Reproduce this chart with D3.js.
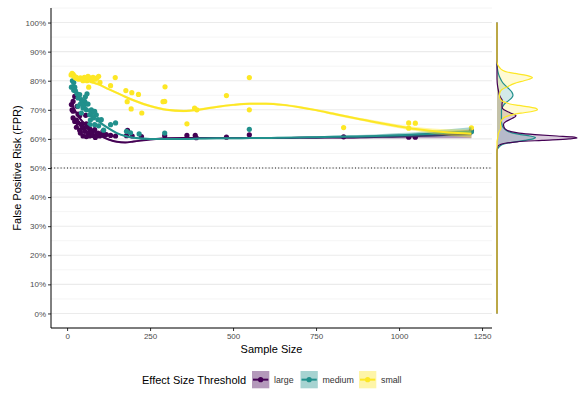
<!DOCTYPE html>
<html><head><meta charset="utf-8">
<script src="https://cdn.jsdelivr.net/npm/d3@7"></script>
<style>
body{margin:0;background:#fff;}
text{font-family:"Liberation Sans",Arial,sans-serif;}
</style></head>
<body><svg id="c" width="586" height="395"></svg>
<script>
// ---------- data ----------
const groups = ["large","medium","small"];
const colors = ["#440154","#21908C","#FDE725"];
const yTicks = [0,0.1,0.2,0.3,0.4,0.5,0.6,0.7,0.8,0.9,1.0];
const xTicks = [0,250,500,750,1000,1250];

// scatter points (sample size, FPR)
const largeN   = [13,18,23,15,30,18,33,38,56,18,23,28,33,43,48,28,38,58,53,63,73,48,58,68,78,88,98,68,83,93,108,118,131,146,182,179,196,224,294,361,386,389,480,549,833,1029,1049,1218,40,45,60,75,85,101,111];
const largeFPR = [0.718,0.729,0.746,0.700,0.712,0.695,0.685,0.680,0.681,0.672,0.660,0.665,0.655,0.650,0.638,0.640,0.630,0.652,0.626,0.621,0.615,0.610,0.608,0.610,0.612,0.612,0.610,0.635,0.632,0.620,0.626,0.615,0.612,0.610,0.629,0.611,0.610,0.608,0.611,0.612,0.612,0.604,0.606,0.614,0.607,0.606,0.606,0.628,0.620,0.645,0.640,0.625,0.605,0.615,0.615];

const mediumN   = [13,23,20,16,20,30,38,60,33,43,53,60,63,33,48,58,73,83,43,68,88,78,93,68,83,103,131,146,179,191,217,294,549,1218,25,50,40,70,95,110,75,55];
const mediumFPR = [0.778,0.778,0.794,0.800,0.767,0.755,0.752,0.755,0.741,0.735,0.729,0.720,0.720,0.712,0.706,0.700,0.700,0.695,0.689,0.683,0.683,0.672,0.666,0.649,0.649,0.666,0.649,0.655,0.626,0.621,0.617,0.620,0.633,0.625,0.765,0.715,0.720,0.665,0.645,0.630,0.690,0.745];

const smallN   = [12,15,18,20,22,25,28,30,35,40,45,48,52,55,60,63,68,72,75,78,82,85,90,95,65,99,131,145,177,195,215,181,295,289,294,193,225,361,384,391,480,549,549,833,1029,1049,1029,1218];
const smallFPR = [0.820,0.825,0.822,0.818,0.815,0.810,0.812,0.808,0.805,0.810,0.805,0.800,0.812,0.806,0.800,0.815,0.810,0.804,0.800,0.812,0.808,0.805,0.810,0.815,0.778,0.794,0.783,0.811,0.766,0.759,0.753,0.728,0.779,0.728,0.729,0.703,0.689,0.652,0.706,0.700,0.749,0.811,0.700,0.639,0.655,0.654,0.637,0.638];

// smoothed fits (loess), with standard-error half widths
const fitN = [13,25,40,60,80,100,125,150,175,200,250,300,350,400,450,500,550,600,650,700,750,800,850,900,950,1000,1050,1100,1150,1218];
const largeFit  = [0.722,0.695,0.668,0.645,0.627,0.611,0.598,0.590,0.588,0.591,0.598,0.602,0.603,0.603,0.603,0.603,0.603,0.603,0.603,0.604,0.604,0.605,0.605,0.606,0.607,0.608,0.610,0.612,0.614,0.617];
const mediumFit = [0.785,0.762,0.733,0.702,0.677,0.656,0.636,0.620,0.610,0.604,0.600,0.600,0.600,0.601,0.602,0.602,0.603,0.603,0.604,0.605,0.606,0.607,0.608,0.609,0.611,0.613,0.615,0.618,0.621,0.625];
const smallFit  = [0.816,0.813,0.808,0.801,0.793,0.785,0.771,0.758,0.745,0.733,0.713,0.700,0.696,0.701,0.710,0.717,0.721,0.721,0.717,0.709,0.699,0.687,0.675,0.664,0.653,0.643,0.634,0.627,0.622,0.618];
const largeSE  = [0.008,0.006,0.005,0.004,0.004,0.003,0.003,0.003,0.003,0.003,0.003,0.003,0.003,0.003,0.003,0.003,0.003,0.003,0.003,0.003,0.004,0.004,0.005,0.005,0.006,0.007,0.008,0.010,0.012,0.015];
const mediumSE = [0.008,0.006,0.005,0.004,0.004,0.003,0.003,0.003,0.003,0.003,0.003,0.003,0.003,0.003,0.003,0.003,0.003,0.003,0.003,0.003,0.004,0.004,0.005,0.005,0.006,0.007,0.008,0.010,0.012,0.015];
const smallSE  = [0.008,0.006,0.005,0.004,0.004,0.004,0.004,0.004,0.004,0.004,0.004,0.004,0.004,0.004,0.004,0.004,0.004,0.004,0.004,0.004,0.004,0.005,0.005,0.005,0.006,0.006,0.007,0.009,0.011,0.014];

// marginal densities of FPR (relative density units)
const largeDensF = [1.0,0.81,0.80,0.79,0.78,0.77,0.76,0.75,0.74,0.73,0.72,0.71,0.70,0.69,0.68,0.67,0.66,0.65,0.64,0.63,0.625,0.62,0.615,0.61,0.607,0.603,0.60,0.595,0.59,0.585,0.58,0.575,0.565,0.55,0.0];
const largeDensV = [0,0,0.1,0.3,0.7,1.2,1.8,2.5,4,5.5,5,5,7,13,19,15,9,6.5,7,10,14,22,38,60,75,80,72,45,20,8,3,1,0.2,0,0];
const mediumDensF = [1.0,0.86,0.85,0.84,0.83,0.82,0.81,0.80,0.79,0.78,0.77,0.76,0.75,0.74,0.73,0.72,0.71,0.70,0.69,0.68,0.67,0.66,0.65,0.64,0.63,0.62,0.615,0.61,0.605,0.60,0.595,0.59,0.585,0.58,0.57,0.565,0.56,0.0];
const mediumDensV = [0,0,0.2,0.5,1,1.8,3,4.5,6.5,9.5,12.5,15,16,14.5,11,7.5,5.5,4.5,4.5,4.5,4.5,4.5,5,6,9,16,24,33,38.5,36,28,18,10,5,1.5,0.5,0,0];
const smallDensF = [1.0,0.87,0.86,0.85,0.84,0.835,0.83,0.825,0.82,0.815,0.81,0.805,0.80,0.79,0.78,0.77,0.76,0.75,0.74,0.73,0.725,0.72,0.715,0.71,0.705,0.70,0.695,0.69,0.685,0.68,0.675,0.67,0.66,0.65,0.64,0.63,0.62,0.61,0.60,0.59,0.0];
const smallDensV = [0,0,0.3,1.5,4,6,10,18,27,33,35.5,32,27,17,11,5,3,2.5,2.8,5,9,13,22,32,39,40.5,36,27,18,12,8,6,4,3.5,4,3,1.5,1,0.5,0,0];

// ---------- drawing ----------
const svg = d3.select("#c");
const x = d3.scaleLinear().domain([-48.5,1280]).range([51,492]);
const y = d3.scaleLinear().domain([-0.05,1.05]).range([328,8]);
const xd = d3.scaleLinear().domain([0,84]).range([497,581]);

const pts = [[largeN,largeFPR],[mediumN,mediumFPR],[smallN,smallFPR]];
const fits = [[largeFit,largeSE],[mediumFit,mediumSE],[smallFit,smallSE]];
const dens = [[largeDensF,largeDensV],[mediumDensF,mediumDensV],[smallDensF,smallDensV]];

// grid
const minor = d3.range(-0.05,1.051,0.1);
svg.append("g").selectAll("line").data(minor).join("line")
  .attr("x1",51).attr("x2",492).attr("y1",d=>y(d)).attr("y2",d=>y(d))
  .attr("stroke","#ebebeb").attr("stroke-width",0.55);
svg.append("g").selectAll("line").data(yTicks).join("line")
  .attr("x1",51).attr("x2",492).attr("y1",d=>y(d)).attr("y2",d=>y(d))
  .attr("stroke","#ebebeb").attr("stroke-width",1.07);

// reference line
svg.append("line").attr("x1",51).attr("x2",492).attr("y1",y(0.5)).attr("y2",y(0.5))
  .attr("stroke","#000").attr("stroke-width",0.9).attr("stroke-dasharray","1,2.2");

// points
groups.forEach((g,i)=>{
  const [ns,fs] = pts[i];
  svg.append("g").selectAll("circle").data(ns.map((n,k)=>[n,fs[k]])).join("circle")
    .attr("cx",d=>x(d[0])).attr("cy",d=>y(d[1])).attr("r",2.6).attr("fill",colors[i]);
});

// smooths
groups.forEach((g,i)=>{
  const [f,se] = fits[i];
  const data = fitN.map((n,k)=>({n, f:f[k], s:se[k]}));
  svg.append("path").datum(data)
    .attr("d", d3.area().x(d=>x(d.n)).y0(d=>y(d.f-d.s)).y1(d=>y(d.f+d.s)).curve(d3.curveMonotoneX))
    .attr("fill",colors[i]).attr("fill-opacity",0.4);
  svg.append("path").datum(data)
    .attr("d", d3.line().x(d=>x(d.n)).y(d=>y(d.f)).curve(d3.curveMonotoneX))
    .attr("fill","none").attr("stroke",colors[i]).attr("stroke-width",2);
});

// axes
const fmtPct = d3.format(".0%");
const ya = svg.append("g").attr("transform","translate(51,0)")
  .call(d3.axisLeft(y).tickValues(yTicks).tickFormat(fmtPct).tickSize(3).tickPadding(2));
const xa = svg.append("g").attr("transform","translate(0,328)")
  .call(d3.axisBottom(x).tickValues(xTicks).tickFormat(d3.format("d")).tickSize(3).tickPadding(2));
[ya,xa].forEach(a=>{
  a.select(".domain").remove();
  a.selectAll(".tick line").attr("stroke","#333");
  a.selectAll(".tick text").attr("fill","#4d4d4d").style("font-size","8px").style("font-family","Liberation Sans, Arial, sans-serif");
});
svg.append("line").attr("x1",51).attr("x2",51).attr("y1",8).attr("y2",328).attr("stroke","#000").attr("stroke-width",1);
svg.append("line").attr("x1",51).attr("x2",492).attr("y1",328).attr("y2",328).attr("stroke","#000").attr("stroke-width",1);

svg.append("text").attr("x",271.5).attr("y",353).attr("text-anchor","middle")
  .style("font-size","11px").text("Sample Size");
svg.append("text").attr("transform","translate(21,168) rotate(-90)").attr("text-anchor","middle")
  .style("font-size","11px").text("False Positive Risk (FPR)");

// marginal densities
const densOrder = [1,0,2];
densOrder.forEach(i=>{
  const [fs,vs] = dens[i];
  const data = fs.map((f,k)=>({f, v:vs[k]}));
  svg.append("path").datum(data)
    .attr("d", d3.area().y(d=>y(d.f)).x0(xd(0)).x1(d=>xd(d.v)).curve(d3.curveMonotoneY))
    .attr("fill",colors[i]).attr("fill-opacity",0.2);
});
densOrder.forEach(i=>{
  const [fs,vs] = dens[i];
  const data = fs.map((f,k)=>({f, v:vs[k]}));
  svg.append("path").datum(data)
    .attr("d", d3.line().y(d=>y(d.f)).x(d=>xd(d.v)).curve(d3.curveMonotoneY))
    .attr("fill","none").attr("stroke",colors[i]).attr("stroke-width",1.2);
});

// legend
svg.append("text").attr("x",142).attr("y",384).style("font-size","11px").text("Effect Size Threshold");
const keyX = [252,300.5,359];
groups.forEach((g,i)=>{
  const kx = keyX[i], ky = 371;
  svg.append("rect").attr("x",kx).attr("y",ky).attr("width",17.3).attr("height",17.3)
    .attr("fill",colors[i]).attr("fill-opacity",0.4);
  svg.append("line").attr("x1",kx+1).attr("x2",kx+16.3).attr("y1",ky+8.65).attr("y2",ky+8.65)
    .attr("stroke",colors[i]).attr("stroke-width",2);
  svg.append("circle").attr("cx",kx+8.65).attr("cy",ky+8.65).attr("r",2.6).attr("fill",colors[i]);
  svg.append("text").attr("x",kx+22).attr("y",ky+12).style("font-size","8.8px").attr("fill","#333").text(g);
});
</script></body></html>
